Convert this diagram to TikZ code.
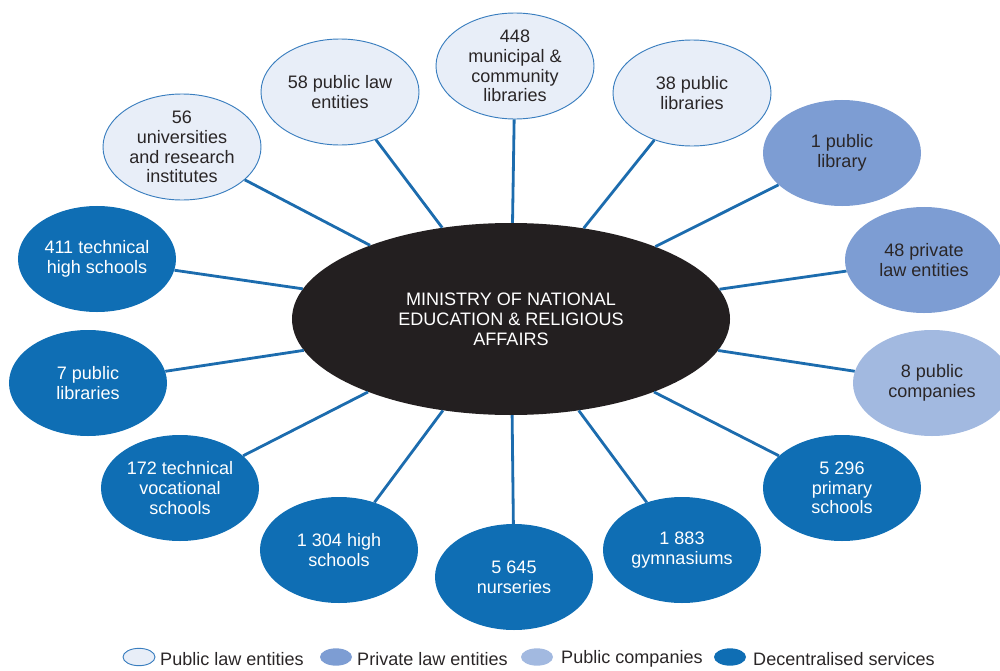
\documentclass[tikz,border=0pt]{standalone}
\usepackage{fontspec}
\setmainfont{Liberation Sans}
\usetikzlibrary{shapes.geometric}
\definecolor{plfill}{HTML}{E8EEF8}
\definecolor{pldraw}{HTML}{3A7EBF}
\definecolor{prfill}{HTML}{7D9DD3}
\definecolor{pcfill}{HTML}{A2B9E0}
\definecolor{dsfill}{HTML}{0F6EB4}
\definecolor{ctrfill}{HTML}{231F20}
\definecolor{conncol}{HTML}{1C6CAE}
\definecolor{darktxt}{HTML}{2A2627}
\tikzset{
  outer/.style={ellipse, minimum width=4.74cm, minimum height=3.18cm, inner sep=0pt},
  txt/.style={align=center, font=\fontsize{15.4pt}{16.8pt}\selectfont, inner sep=0pt},
  pl/.style={outer, fill=plfill, draw=pldraw, line width=0.8pt,
    label={[txt, text=darktxt]center:#1}},
  pr/.style={outer, fill=prfill, label={[txt, text=darktxt]center:#1}},
  pc/.style={outer, fill=pcfill, label={[txt, text=darktxt]center:#1}},
  ds/.style={outer, fill=dsfill, label={[txt, text=white]center:#1}},
  conn/.style={draw=conncol, line width=2.4pt},
  legmark/.style={ellipse, minimum width=0.96cm, minimum height=0.52cm, inner sep=0pt},
  legtxt/.style={anchor=west, inner sep=0pt, text=darktxt, font=\fontsize{15.4pt}{17pt}\selectfont},
}
\begin{document}
\begin{tikzpicture}[x=0.03cm, y=-0.03cm]
\useasboundingbox (0,0) rectangle (1000,671);
% central node
\node[ellipse, fill=ctrfill, minimum width=13.14cm, minimum height=5.76cm, inner sep=0pt,
      text=white, align=center, font=\fontsize{15.4pt}{17.1pt}\selectfont] (m) at (511,319)
      {MINISTRY OF NATIONAL\\EDUCATION \& RELIGIOUS\\AFFAIRS};
% outer nodes
\node[pl={56\\universities\\and research\\institutes}] (uni) at (182,147) {};
\node[pl={58 public law\\entities}] (plaw) at (340,92) {};
\node[pl={448\\municipal \&\\community\\libraries}] (mun) at (515,66) {};
\node[pl={38 public\\libraries}] (lib38) at (692,93) {};
\node[pr={1 public\\library}] (lib1) at (842,153) {};
\node[pr={48 private\\law entities}] (priv) at (924,260) {};
\node[pc={8 public\\companies}] (comp) at (932,383) {};
\node[ds={5 296\\primary\\schools}] (prim) at (842,488) {};
\node[ds={1 883\\gymnasiums}] (gym) at (682,550) {};
\node[ds={5 645\\nurseries}] (nur) at (514,577) {};
\node[ds={1 304 high\\schools}] (high) at (339,550) {};
\node[ds={172 technical\\vocational\\schools}] (voc) at (180,488) {};
\node[ds={7 public\\libraries}] (lib7) at (88,383) {};
\node[ds={411 technical\\high schools}] (tech) at (97,259) {};
% connectors
\foreach \n in {uni,plaw,mun,lib38,lib1,priv,comp,prim,gym,nur,high,voc,lib7,tech}
  \draw[conn] (m) -- (\n);
% legend
\node[legmark, fill=plfill, draw=pldraw, line width=0.8pt] (lg1) at (139,657) {};
\node[legtxt] (lt1) at (160,659) {Public law entities};
\node[legmark, fill=prfill] (lg2) at (336,657) {};
\node[legtxt] (lt2) at (357,659) {Private law entities};
\node[legmark, fill=pcfill] (lg3) at (537,657) {};
\node[legtxt] (lt3) at (561,659) {Public companies};
\node[legmark, fill=dsfill] (lg4) at (730,657) {};
\node[legtxt] (lt4) at (753,659) {Decentralised services};
\end{tikzpicture}
\end{document}
